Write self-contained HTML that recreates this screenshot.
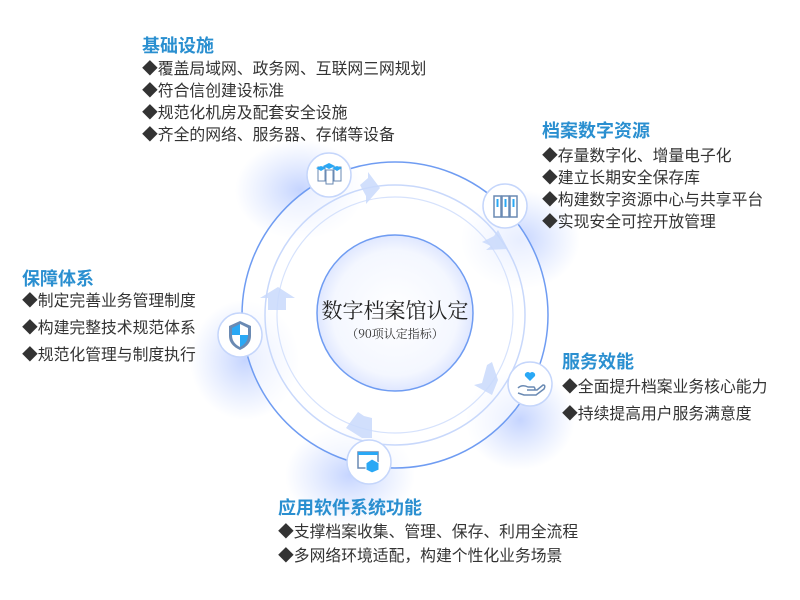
<!DOCTYPE html>
<html><head><meta charset="utf-8"><style>
body{margin:0;width:800px;height:600px;background:#fff;position:relative;overflow:hidden;font-family:"Liberation Sans","Noto Sans CJK SC",sans-serif}
.t{position:absolute;color:#2a8fd0;font-weight:bold;font-size:18px;line-height:22px;white-space:nowrap}
.l{position:absolute;color:#333;font-size:15.8px;white-space:nowrap}
.l div{height:22px;line-height:22px}
</style></head><body>
<svg width="800" height="600" style="position:absolute;left:0;top:0">
<defs>
<radialGradient id="glow"><stop offset="0" stop-color="#bfd0ff" stop-opacity=".9"/><stop offset="1" stop-color="#c9d8ff" stop-opacity="0"/></radialGradient>
<radialGradient id="inner" cx=".5" cy=".5" r=".5"><stop offset="0" stop-color="#fff"/><stop offset=".8" stop-color="#f4f7ff"/><stop offset="1" stop-color="#dfe7ff"/></radialGradient>
</defs>
<ellipse cx="300" cy="190" rx="65" ry="50" fill="url(#glow)"/>
<ellipse cx="520" cy="240" rx="60" ry="50" fill="url(#glow)"/>
<ellipse cx="245" cy="360" rx="55" ry="60" fill="url(#glow)"/>
<ellipse cx="520" cy="420" rx="55" ry="50" fill="url(#glow)"/>
<ellipse cx="350" cy="475" rx="65" ry="50" fill="url(#glow)"/>
<circle cx="395" cy="315" r="153" fill="#fff" fill-opacity=".6" stroke="#6f9cf2" stroke-width="1.5"/>
<circle cx="395" cy="315" r="130" fill="none" stroke="#c8d8fb" stroke-width="1.5"/>
<circle cx="395" cy="315" r="118" fill="none" stroke="#d6e2fc" stroke-width="1.2"/>
<circle cx="395" cy="313" r="78" fill="url(#inner)" stroke="#6f9cf2" stroke-width="1.5"/>
<g fill="#c9d9fb" opacity=".85">
<polygon points="360,185 368,178 368,172 380,188 366,204 366,196"/>
<polygon points="482,242 494,236 498,230 508,249 486,250 491,246"/>
<polygon points="487,365 492,362 498,380 492,395 474,385 482,383"/>
<polygon points="346,428 358,412 364,416 372,418 372,438 362,438"/>
<polygon points="268,310 268,298 260,298 278,287 295,298 286,298 286,310"/>
</g>
<g fill="#fff" stroke="#c5d6fb" stroke-width="1.5">
<circle cx="329" cy="175" r="22"/><circle cx="505" cy="206" r="22"/><circle cx="240" cy="335" r="22"/><circle cx="530" cy="384" r="22"/><circle cx="369" cy="462" r="22"/>
</g>
<g>
<rect x="318" y="167" width="7" height="14" fill="none" stroke="#6a8ab3"/><rect x="326" y="170" width="7" height="14" fill="none" stroke="#6a8ab3"/><rect x="334" y="167" width="7" height="14" fill="none" stroke="#6a8ab3"/>
<polygon points="329,163 335,166 329,169 323,166" fill="#2aa8f5"/><polygon points="321,166 326,168 321,171 316,168" fill="#2aa8f5"/><polygon points="337,166 342,168 337,171 332,168" fill="#2aa8f5"/>
<rect x="494" y="196" width="7" height="21" fill="none" stroke="#6a8ab3" stroke-width="1.5"/><rect x="502" y="196" width="7" height="21" fill="none" stroke="#6a8ab3" stroke-width="1.5"/><rect x="510" y="196" width="7" height="21" fill="none" stroke="#6a8ab3" stroke-width="1.5"/>
<rect x="496.5" y="199" width="2" height="8" fill="#2aa8f5"/><rect x="504.5" y="199" width="2" height="8" fill="#2aa8f5"/><rect x="512.5" y="199" width="2" height="8" fill="#2aa8f5"/>
<path d="M229,326 L240,321 L251,326 L251,336 Q251,345 240,350 Q229,345 229,336Z" fill="#6a8ab3"/>
<path d="M232,328 L240,324 L240,335 L232,335Z M240,335 L248,335 Q248,343 240,347Z" fill="#2aa8f5"/>
<path d="M240,324 L248,328 L248,335 L240,335Z M232,335 L240,335 L240,347 Q232,343 232,335Z" fill="#fff"/>
<path d="M530,381 l-5,-5 a3,3 0 0 1 5,-3 a3,3 0 0 1 5,3z" fill="#2aa8f5"/>
<path d="M518,388 q4,-4 10,-1 l6,0 q2,2 0,3 l-7,0 m0,0 l10,0 l6,-5 q3,0 1,4 l-8,6 l-12,0 l-6,-2" fill="none" stroke="#6a8ab3" stroke-width="1.5"/>
<rect x="358" y="452" width="20" height="16" fill="none" stroke="#6a8ab3" stroke-width="1.5"/><rect x="358" y="452" width="20" height="3" fill="#2aa8f5"/>
<polygon points="372,459 379,463 379,470 372,473 366,470 366,463" fill="#2aa8f5" stroke="#fff"/>
</g>
<text x="395" y="318" text-anchor="middle" font-family="'Noto Serif CJK SC',serif" font-size="21" fill="#222">数字档案馆认定</text>
<text x="395" y="338" text-anchor="middle" font-family="'Noto Serif CJK SC',serif" font-size="12" fill="#333">（90项认定指标）</text>
</svg>
<div class="t" style="left:142px;top:35px">基础设施</div>
<div class="l" style="left:142px;top:59px"><div>◆覆盖局域网、政务网、互联网三网规划</div><div>◆符合信创建设标准</div><div>◆规范化机房及配套安全设施</div><div>◆齐全的网络、服务器、存储等设备</div></div>
<div class="t" style="left:542px;top:120px">档案数字资源</div>
<div class="l" style="left:542px;top:146px"><div>◆存量数字化、增量电子化</div><div>◆建立长期安全保存库</div><div>◆构建数字资源中心与共享平台</div><div>◆实现安全可控开放管理</div></div>
<div class="t" style="left:22px;top:268px">保障体系</div>
<div class="l" style="left:22px;top:291px;"><div style="height:27px">◆制定完善业务管理制度</div><div style="height:27px">◆构建完整技术规范体系</div><div>◆规范化管理与制度执行</div></div>
<div class="t" style="left:562px;top:351px">服务效能</div>
<div class="l" style="left:562px;top:377px"><div style="height:27px">◆全面提升档案业务核心能力</div><div>◆持续提高用户服务满意度</div></div>
<div class="t" style="left:278px;top:497px">应用软件系统功能</div>
<div class="l" style="left:278px;top:522px"><div style="height:24px">◆支撑档案收集、管理、保存、利用全流程</div><div>◆多网络环境适配，构建个性化业务场景</div></div>
</body></html>
